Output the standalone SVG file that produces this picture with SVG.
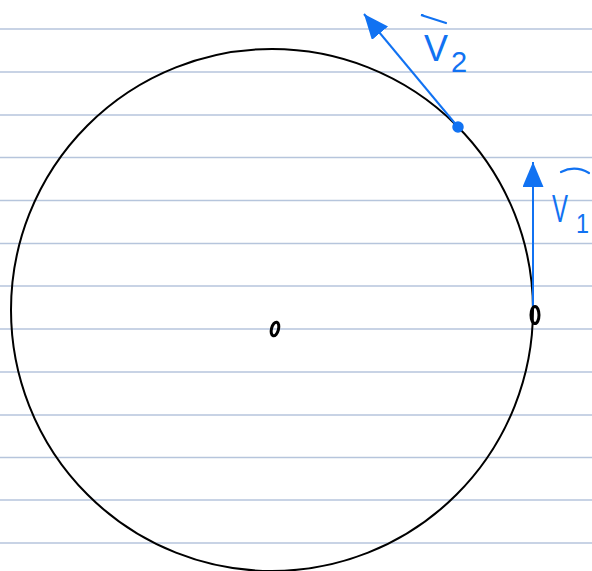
<svg xmlns="http://www.w3.org/2000/svg" width="592" height="571" viewBox="0 0 592 571">
  <style>
    .rule { stroke: #b6c5dc; stroke-width: 1.6; }
    .circ { fill: none; stroke: #000; stroke-width: 2; }
    .vec { stroke: #1172f2; stroke-width: 2; fill: none; }
    .lbl { fill: #1172f2; font-family: "Liberation Sans", Arial, sans-serif; }
    .bar { stroke: #1172f2; stroke-width: 2.2; fill: none; stroke-linecap: round; }
    .pt { fill: none; stroke: #000; stroke-width: 3; }
  </style>
  <defs>
    <marker id="ah" markerUnits="userSpaceOnUse" markerWidth="26" markerHeight="22" refX="25" refY="10.5" orient="auto">
      <path d="M0,0 L25,10.5 L0,21 Z" fill="#1172f2"/>
    </marker>
  </defs>
  <rect width="592" height="571" fill="#fff"/>
  <g id="paper-lines">
    <line class="rule" x1="0" y1="29" x2="592" y2="29"/>
    <line class="rule" x1="0" y1="72" x2="592" y2="72"/>
    <line class="rule" x1="0" y1="115" x2="592" y2="115"/>
    <line class="rule" x1="0" y1="157.5" x2="592" y2="157.5"/>
    <line class="rule" x1="0" y1="200.5" x2="592" y2="200.5"/>
    <line class="rule" x1="0" y1="243.5" x2="592" y2="243.5"/>
    <line class="rule" x1="0" y1="286" x2="592" y2="286"/>
    <line class="rule" x1="0" y1="329" x2="592" y2="329"/>
    <line class="rule" x1="0" y1="372" x2="592" y2="372"/>
    <line class="rule" x1="0" y1="415" x2="592" y2="415"/>
    <line class="rule" x1="0" y1="457.5" x2="592" y2="457.5"/>
    <line class="rule" x1="0" y1="500" x2="592" y2="500"/>
    <line class="rule" x1="0" y1="543" x2="592" y2="543"/>
  </g>
  <g id="circle">
    <circle class="circ" cx="272" cy="310" r="261"/>
  </g>
  <g id="center-point">
    <ellipse cx="275" cy="329" rx="3.5" ry="7" transform="rotate(15 275 329)" fill="none" stroke="#000" stroke-width="3"/>
  </g>
  <g id="connectors">
    <line class="vec" x1="533" y1="308" x2="533" y2="162" marker-end="url(#ah)"/>
    <line class="vec" x1="458" y1="127" x2="364" y2="14" marker-end="url(#ah)"/>
  </g>
  <g id="point-1">
    <ellipse class="pt" cx="535" cy="315" rx="4" ry="8.5"/>
  </g>
  <g id="point-2">
    <circle cx="458" cy="127" r="5" fill="#1172f2" stroke="#1172f2" stroke-width="1.5"/>
  </g>
  <g id="label-v2">
    <path class="bar" d="M424,16 L421,15 L446,23"/>
    <text class="lbl" x="424" y="61" font-size="36" textLength="24" lengthAdjust="spacingAndGlyphs">V</text>
    <text class="lbl" x="451" y="72" font-size="29">2</text>
  </g>
  <g id="label-v1">
    <path class="bar" d="M561,172 Q575,165 589,173"/>
    <text class="lbl" x="552" y="222" font-size="38" textLength="16" lengthAdjust="spacingAndGlyphs">V</text>
    <text class="lbl" x="576" y="233" font-size="28" textLength="13" lengthAdjust="spacingAndGlyphs">1</text>
  </g>
</svg>
